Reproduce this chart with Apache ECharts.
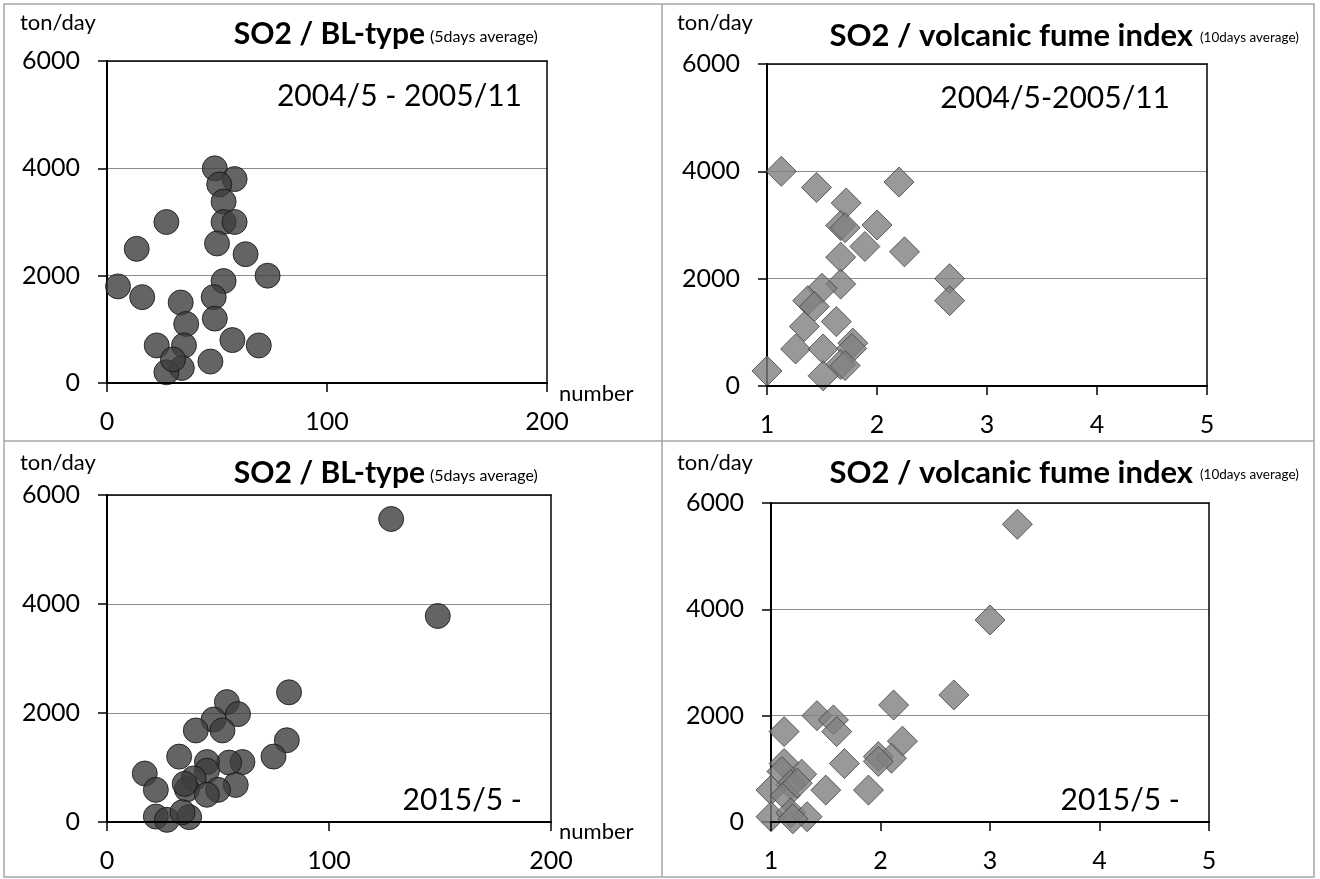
<!DOCTYPE html>
<html lang="en">
<head>
    <meta charset="UTF-8">
    <title>SO2 scatter</title>
    <style>
        html, body { margin: 0; padding: 0; background: #fff; }
        #main { width: 1320px; height: 879px; }
    </style>
</head>
<body>
<div id="main"></div>
<script src="https://cdn.jsdelivr.net/npm/echarts@6/dist/echarts.min.js"></script>
<script>
    // 2004/5 - 2005/11, BL-type count vs SO2
    var blA = [49, 58, 51, 53, 53, 58, 27, 50, 13.5, 63, 73, 5, 53, 16, 48.5, 33.5, 49, 36, 57, 69, 22.6, 35, 47, 34, 27, 30];
    var so2BlA = [4000, 3800, 3700, 3380, 3000, 3000, 3000, 2600, 2500, 2400, 2000, 1800, 1900, 1600, 1600, 1500, 1200, 1100, 800, 700, 700, 700, 400, 280, 200, 440];

    // 2004/5 - 2005/11, volcanic fume index vs SO2
    var fumeA = [1.13, 1.45, 2.2, 1.72, 1.67, 1.71, 2.0, 1.89, 2.25, 1.67, 2.66, 2.66, 1.67, 1.5, 1.37, 1.43, 1.34, 1.63, 1.26, 1.51, 1.78, 1.77, 1.67, 1.71, 1.0, 1.51];
    var so2FumeA = [4000, 3700, 3800, 3410, 2990, 2950, 3000, 2600, 2500, 2400, 2000, 1590, 1900, 1820, 1590, 1480, 1110, 1200, 690, 690, 800, 700, 400, 380, 280, 190];

    // 2015/5 -, BL-type count vs SO2
    var blB = [82, 54, 59, 48, 52, 40, 81, 75, 32.5, 61, 55, 45, 17, 45, 39, 22, 58, 36, 35, 50, 45, 22, 27, 37, 34, 128, 149];
    var so2BlB = [2380, 2200, 1980, 1880, 1680, 1680, 1500, 1200, 1200, 1100, 1090, 1100, 890, 940, 800, 590, 680, 600, 700, 590, 500, 100, 40, 90, 180, 5560, 3780];

    // 2015/5 -, volcanic fume index vs SO2
    var fumeB = [3.25, 3.0, 2.67, 2.12, 1.42, 1.57, 1.6, 1.12, 2.2, 1.98, 2.1, 1.98, 1.67, 1.12, 1.28, 1.1, 1.18, 1.5, 1.89, 1.0, 1.13, 1.24, 1.0, 1.18, 1.33, 1.2];
    var so2FumeB = [5600, 3800, 2390, 2200, 2000, 1920, 1700, 1700, 1520, 1230, 1200, 1140, 1100, 1100, 900, 950, 700, 600, 600, 600, 500, 730, 100, 170, 100, 60];

    var FONT = 'Lato, "Open Sans", sans-serif';

    function zip(xs, ys) {
        var out = [];
        for (var i = 0; i < xs.length; i++) {
            out.push([xs[i], ys[i]]);
        }
        return out;
    }

    function txt(text, x, y, size, bold, align) {
        return {
            type: 'text',
            x: x,
            y: y,
            z: 10,
            style: {
                text: text,
                font: (bold ? 'bold ' : '') + size + 'px ' + FONT,
                fill: '#000',
                textAlign: align || 'left',
                textVerticalAlign: 'middle'
            }
        };
    }

    // plain numbers, no thousands separator
    function plain(v) {
        return String(v);
    }

    var myChart = echarts.init(document.getElementById('main'));

    var grids = [
        {left: 107, top: 61, width: 440, height: 322},
        {left: 767, top: 64, width: 440, height: 322},
        {left: 107, top: 495, width: 444, height: 327},
        {left: 771, top: 503, width: 438, height: 319}
    ];
    var xRange = [[0, 200, 100], [1, 5, 1], [0, 200, 100], [1, 5, 1]];

    var xAxes = [], yAxes = [];
    // bottom / left axes with labels
    for (var g = 0; g < 4; g++) {
        xAxes.push({
            type: 'value',
            gridIndex: g,
            position: 'bottom',
            min: xRange[g][0],
            max: xRange[g][1],
            interval: xRange[g][2],
            z: 3,
            axisLine: {show: true, onZero: false, lineStyle: {color: '#000', width: 2}},
            axisTick: {show: true, inside: false, length: 9, lineStyle: {color: '#000', width: 1.5}},
            axisLabel: {margin: 26, fontSize: 25, color: '#000', fontFamily: FONT, formatter: plain},
            splitLine: {show: false}
        });
        yAxes.push({
            type: 'value',
            gridIndex: g,
            position: 'left',
            min: 0,
            max: 6000,
            interval: 2000,
            z: 2,
            axisLine: {show: true, onZero: false, lineStyle: {color: '#000', width: 2}},
            axisTick: {show: true, inside: false, length: 9, lineStyle: {color: '#000', width: 1.5}},
            axisLabel: {margin: 27, fontSize: 25, color: '#000', fontFamily: FONT, formatter: plain},
            splitLine: {show: true, lineStyle: {color: '#8c8c8c', width: 1}}
        });
    }
    // top / right border lines
    for (var g2 = 0; g2 < 4; g2++) {
        xAxes.push({
            type: 'value',
            gridIndex: g2,
            position: 'top',
            min: xRange[g2][0],
            max: xRange[g2][1],
            z: 4,
            axisLine: {show: true, onZero: false, lineStyle: {color: '#000', width: 1.5}},
            axisTick: {show: false},
            axisLabel: {show: false},
            splitLine: {show: false}
        });
        yAxes.push({
            type: 'value',
            gridIndex: g2,
            position: 'right',
            min: 0,
            max: 6000,
            z: 4,
            axisLine: {show: true, onZero: false, lineStyle: {color: '#000', width: 1.5}},
            axisTick: {show: false},
            axisLabel: {show: false},
            splitLine: {show: false}
        });
    }

    var circleStyle = {color: '#3d3d3d', borderColor: '#111', borderWidth: 1};
    var diamondStyle = {color: '#7f7f7f', borderColor: '#404040', borderWidth: 1};

    var option = {
        animation: false,
        backgroundColor: '#fff',
        grid: grids,
        xAxis: xAxes,
        yAxis: yAxes,
        series: [
            {
                name: 'BL-type 2004',
                type: 'scatter',
                xAxisIndex: 0,
                yAxisIndex: 0,
                symbol: 'circle',
                symbolSize: 25,
                itemStyle: circleStyle,
                data: zip(blA, so2BlA)
            },
            {
                name: 'fume 2004',
                type: 'scatter',
                xAxisIndex: 1,
                yAxisIndex: 1,
                symbol: 'diamond',
                symbolSize: 30,
                itemStyle: diamondStyle,
                data: zip(fumeA, so2FumeA)
            },
            {
                name: 'BL-type 2015',
                type: 'scatter',
                xAxisIndex: 2,
                yAxisIndex: 2,
                symbol: 'circle',
                symbolSize: 25,
                itemStyle: circleStyle,
                data: zip(blB, so2BlB)
            },
            {
                name: 'fume 2015',
                type: 'scatter',
                xAxisIndex: 3,
                yAxisIndex: 3,
                symbol: 'diamond',
                symbolSize: 30,
                itemStyle: diamondStyle,
                data: zip(fumeB, so2FumeB)
            }
        ],
        graphic: [
            // outer frame and panel dividers
            {type: 'rect', shape: {x: 4, y: 4, width: 1310, height: 873}, style: {fill: null, stroke: '#a6a6a6', lineWidth: 1.5}},
            {type: 'line', shape: {x1: 662, y1: 4, x2: 662, y2: 877}, style: {stroke: '#a6a6a6', lineWidth: 1.5}},
            {type: 'line', shape: {x1: 4, y1: 441, x2: 1314, y2: 441}, style: {stroke: '#a6a6a6', lineWidth: 1.5}},

            // top left
            txt('ton/day', 20, 23, 22),
            txt('SO2 / BL-type', 425, 34, 30, true, 'right'),
            txt('(5days average)', 430, 37, 16),
            txt('2004/5 - 2005/11', 522, 96, 30, false, 'right'),
            txt('number', 559, 394, 22),

            // top right
            txt('ton/day', 677, 23, 22),
            txt('SO2 / volcanic fume index', 1193, 36, 31, true, 'right'),
            txt('(10days average)', 1200, 38, 13.5),
            txt('2004/5-2005/11', 1170, 98, 30, false, 'right'),

            // bottom left
            txt('ton/day', 20, 463, 22),
            txt('SO2 / BL-type', 425, 473, 30, true, 'right'),
            txt('(5days average)', 430, 476, 16),
            txt('2015/5 -', 522, 800, 30, false, 'right'),
            txt('number', 559, 832, 22),

            // bottom right
            txt('ton/day', 677, 463, 22),
            txt('SO2 / volcanic fume index', 1193, 473, 31, true, 'right'),
            txt('(10days average)', 1200, 475, 13.5),
            txt('2015/5 -', 1180, 800, 30, false, 'right')
        ]
    };

    myChart.setOption(option);
</script>
</body>
</html>
